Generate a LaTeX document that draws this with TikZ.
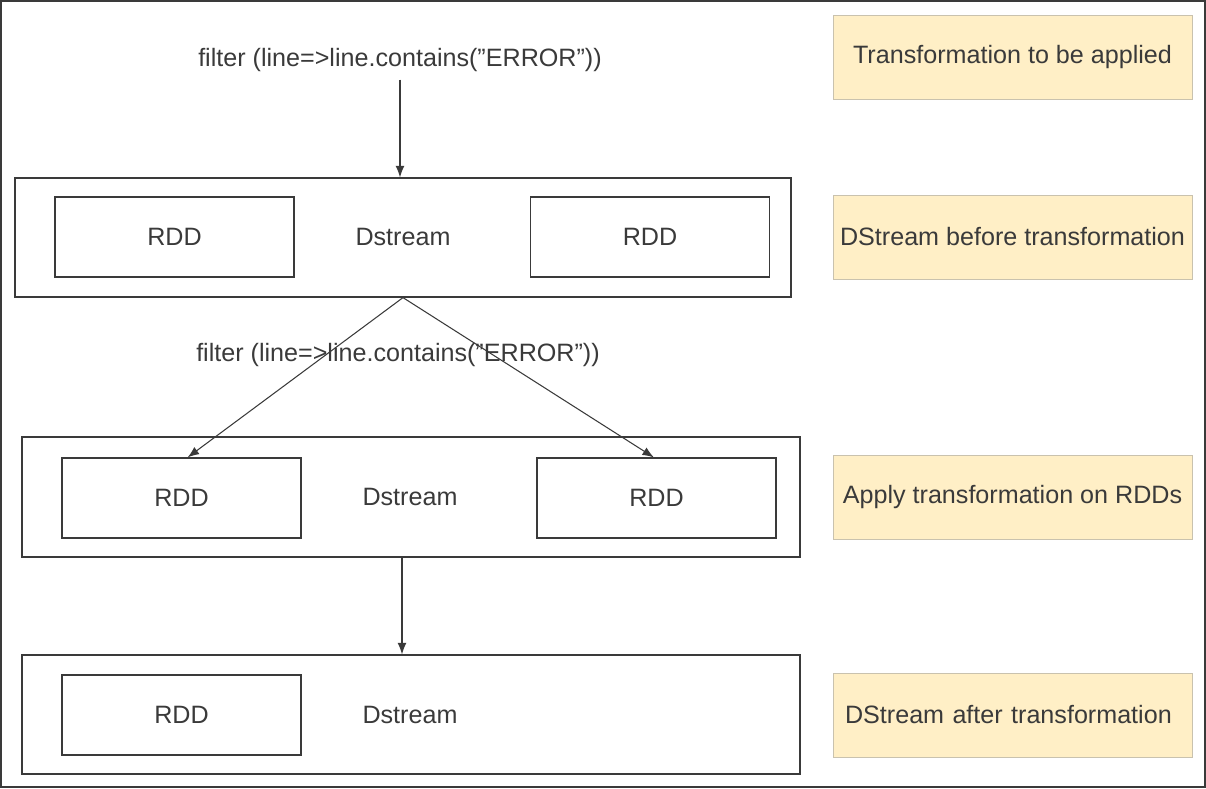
\documentclass[tikz,border=0pt]{standalone}
\usepackage{fontspec}
\setmainfont{Liberation Sans}
\usetikzlibrary{arrows,arrows.meta}
\definecolor{inkgray}{HTML}{3A3A3A}
\definecolor{notefill}{HTML}{FFEFC6}
\definecolor{noteline}{HTML}{C9C2AE}

\begin{document}
\begin{tikzpicture}[x=0.02cm,y=-0.02cm,
  every node/.style={font=\fontsize{14.3}{16}\selectfont, text=inkgray},
  streambox/.style={draw=inkgray, line width=.7pt, minimum height=2.38cm},
  rddbox/.style={draw=inkgray, line width=.7pt, minimum width=4.78cm, minimum height=1.6cm},
  notebox/.style={draw=noteline, fill=notefill, line width=.5pt, minimum width=7.18cm, minimum height=1.68cm},
  flow/.style={draw=inkgray, line width=.6pt, -{Latex[length=6.5pt,width=5pt]}}]
% frame
\draw[inkgray, line width=1pt] (1,1) rectangle (1205,787);
\useasboundingbox (0,0) rectangle (1206,788);

% transformation label
\node (f1) at (400,60) {filter (line=>line.contains("ERROR"))};

% dstream before
\node[streambox, minimum width=15.52cm] (s1) at (403,237.5) {};
\node[rddbox] (r1a) at (174.5,237) {RDD};
\node[rddbox] (r1b) at (650,237) {RDD};
\node (d1) at (403,237) {Dstream};

% applied on each rdd
\node (f2) at (398,355) {filter (line=>line.contains("ERROR"))};

\node[streambox, minimum width=15.56cm, minimum height=2.4cm] (s2) at (411,497) {};
\node[rddbox] (r2a) at (181.5,498) {RDD};
\node[rddbox] (r2b) at (656.5,498) {RDD};
\node (d2) at (410,497) {Dstream};

% dstream after
\node[streambox, minimum width=15.56cm] (s3) at (411,714.5) {};
\node[rddbox] (r3a) at (181.5,715) {RDD};
\node (d3) at (410,715) {Dstream};

% notes on the right
\node[notebox] (n1) at (1012.5,57) {Transformation to be applied};
\node[notebox] (n2) at (1012.5,237) {DStream before transformation};
\node[notebox] (n3) at (1012.5,497) {Apply transformation on RDDs};
\node[notebox, text width=6.7cm, inner xsep=0.24cm, align=left] (n4) at (1012.5,715) {DStream after transformation};

% connectors
\draw[flow] ([yshift=-1pt]f1.south) -- (f1.south |- s1.north);
\draw[flow] (s1.south) -- ([xshift=3.5]r2a.north);
\draw[flow] (s1.south) -- ([xshift=-1.5]r2b.north);
\draw[flow] (s2.south -| 402,0) -- (s3.north -| 402,0);
\end{tikzpicture}
\end{document}
